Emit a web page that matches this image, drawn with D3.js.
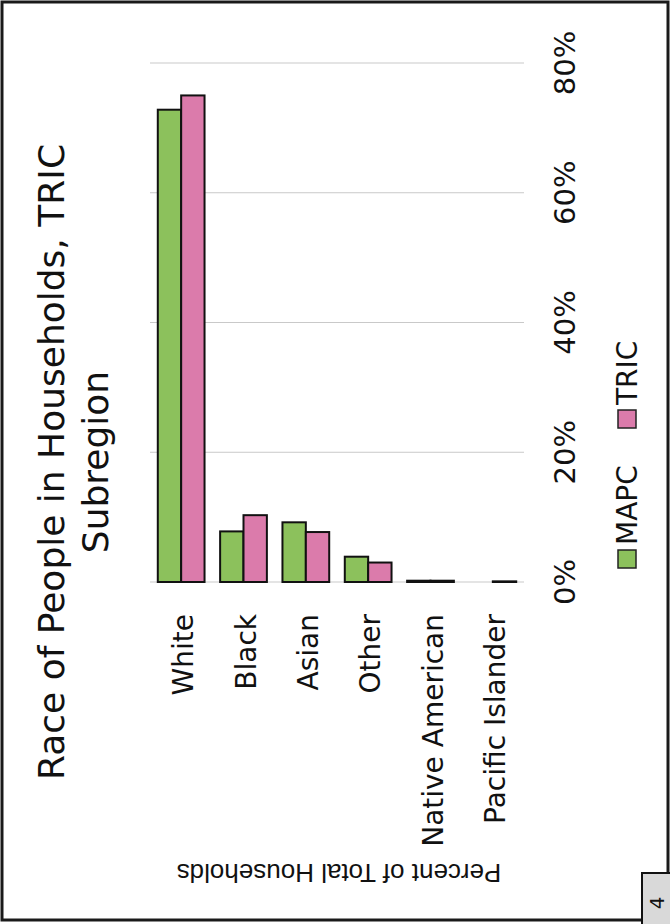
<!DOCTYPE html>
<html>
<head>
<meta charset="utf-8">
<script src="https://cdn.jsdelivr.net/npm/d3@7/dist/d3.min.js"></script>
<style>
  html, body { margin: 0; padding: 0; background: #fff; }
  svg { display: block; }
</style>
</head>
<body>
<svg id="chart" width="670" height="924"></svg>
<script>
// ---- data ----
const categories = ["White", "Black", "Asian", "Other", "Native American", "Pacific Islander"];
const seriesNames = ["MAPC", "TRIC"];
const mapcValues = [72.8, 7.8, 9.2, 3.9, 0.2, 0.0];
const tricValues = [75.0, 10.3, 7.7, 3.0, 0.2, 0.1];
const tickValues = [0, 20, 40, 60, 80];
const titleLines = ["Race of People in Households, TRIC", "Subregion"];
const axisTitle = "Percent of Total Households";
const pageNumber = "4";

const colors = { MAPC: "#8cc15c", TRIC: "#db7bab" };
const font = "'DejaVu Sans', sans-serif";

const svg = d3.select("#chart");

// page frame
svg.append("rect").attr("x", 2).attr("y", 2).attr("width", 666).attr("height", 918)
  .attr("fill", "#fff").attr("stroke", "#1a1a1a").attr("stroke-width", 3);

// scales (page is rotated: categories along x, values grow upward)
const x0 = d3.scaleBand().domain(categories).range([150, 524]).paddingInner(0.25).paddingOuter(0.125);
const x1 = d3.scaleBand().domain(seriesNames).range([0, x0.bandwidth()]);
const y = d3.scaleLinear().domain([0, 80]).range([582, 63]);

// gridlines
svg.append("g").selectAll("line").data(tickValues).join("line")
  .attr("x1", 150).attr("x2", 524)
  .attr("y1", d => y(d)).attr("y2", d => y(d))
  .attr("stroke", "#c9c9c9").attr("stroke-width", 1.2);

// bars
const rows = categories.map((c, i) => ({ cat: c, vals: [
  { key: "MAPC", v: mapcValues[i] }, { key: "TRIC", v: tricValues[i] } ] }));

const g = svg.append("g").selectAll("g").data(rows).join("g")
  .attr("transform", d => `translate(${x0(d.cat)},0)`);
g.selectAll("rect").data(d => d.vals).join("rect")
  .attr("x", d => x1(d.key))
  .attr("width", x1.bandwidth())
  .attr("y", d => y(d.v))
  .attr("height", d => y(0) - y(d.v))
  .attr("fill", d => colors[d.key])
  .attr("stroke", "#111").attr("stroke-width", 2);

// category labels (rotated)
svg.append("g").selectAll("text").data(categories).join("text")
  .attr("transform", d => `translate(${x0(d) + x0.bandwidth() / 2 + 2},614) rotate(-90)`)
  .attr("text-anchor", "end").attr("dy", "0.36em")
  .attr("font-family", font).attr("font-size", 28).attr("fill", "#111")
  .text(d => d);

// value tick labels
svg.append("g").selectAll("text").data(tickValues).join("text")
  .attr("transform", d => `translate(565,${y(d)}) rotate(-90)`)
  .attr("text-anchor", "middle").attr("dy", "0.36em")
  .attr("font-family", font).attr("font-size", 29).attr("fill", "#111")
  .text(d => d + "%");

// title
svg.append("g").selectAll("text").data(titleLines).join("text")
  .attr("transform", (d, i) => `translate(${51 + i * 44},462) rotate(-90)`)
  .attr("text-anchor", "middle").attr("dy", "0.36em")
  .attr("font-family", font).attr("font-size", 36).attr("fill", "#111")
  .text(d => d);

// axis title (upside down)
svg.append("text")
  .attr("transform", "translate(339,873) rotate(180)")
  .attr("text-anchor", "middle").attr("dy", "0.36em")
  .attr("font-family", "'Liberation Sans', Arial, sans-serif").attr("font-size", 26).attr("fill", "#111")
  .text(axisTitle);

// legend
const lg = svg.append("g").attr("transform", "translate(627,568) rotate(-90)");
const legendItems = [{ key: "MAPC", at: 0 }, { key: "TRIC", at: 140 }];
legendItems.forEach(it => {
  lg.append("rect").attr("x", it.at).attr("y", -9).attr("width", 18).attr("height", 18)
    .attr("fill", colors[it.key]).attr("stroke", "#222").attr("stroke-width", 1.5);
  lg.append("text").attr("x", it.at + 23).attr("y", 0).attr("dy", "0.36em")
    .attr("font-family", font).attr("font-size", 28).attr("fill", "#111").text(it.key);
});

// page number box
svg.append("rect").attr("x", 642).attr("y", 873).attr("width", 40).attr("height", 60)
  .attr("fill", "#d9d9d9").attr("stroke", "#111").attr("stroke-width", 2);
svg.append("text").attr("transform", "translate(657,903) rotate(-90)")
  .attr("text-anchor", "middle").attr("dy", "0.36em")
  .attr("font-family", font).attr("font-size", 20).attr("fill", "#111").text(pageNumber);
</script>
</body>
</html>
